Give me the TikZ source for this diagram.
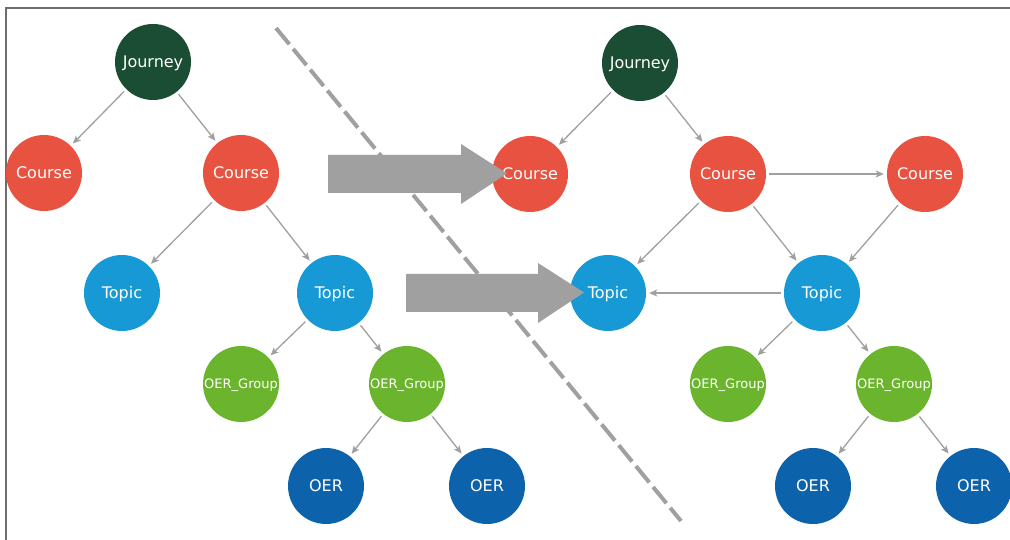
\documentclass[tikz,border=0pt]{standalone}
\usepackage{fontspec}
\setmainfont{DejaVu Sans}
\usetikzlibrary{arrows.meta}
\definecolor{cJourney}{HTML}{1A4D33}
\definecolor{cCourse}{HTML}{E85240}
\definecolor{cTopic}{HTML}{1799D6}
\definecolor{cGroup}{HTML}{6BB42D}
\definecolor{cOER}{HTML}{0D62AC}
\definecolor{cGray}{HTML}{A0A0A0}
\definecolor{cFrame}{HTML}{6E6E6E}
\tikzset{
  bubble/.style={circle, minimum size=76pt, inner sep=0pt, text=white, font=\fontsize{16}{18}\selectfont, text height=11.7pt, text depth=0pt},
  journey/.style={bubble, fill=cJourney},
  course/.style={bubble, fill=cCourse},
  topic/.style={bubble, fill=cTopic},
  group/.style={bubble, fill=cGroup, font=\fontsize{13}{15}\selectfont, text height=9.5pt},
  oer/.style={bubble, fill=cOER},
  link/.style={draw=cGray, line width=1.3pt, -{Stealth[length=8pt,width=7pt,inset=2pt]}, shorten >=3pt, shorten <=3pt},
  bigarrow/.style={fill=cGray},
  divider/.style={draw=cGray, line width=4pt, dash pattern=on 21pt off 6pt},
  frame/.style={draw=cFrame, line width=1.6pt}
}
\begin{document}
\begin{tikzpicture}[x=1pt, y=-1pt]
\useasboundingbox (0,0) rectangle (1010,540);
\draw[frame] (1010,8) -- (6,8) -- (6,540);
% left tree
\node[journey] (J) at (153,62) {Journey};
\node[course] (CL) at (44,173) {Course};
\node[course] (CR) at (241,173) {Course};
\node[topic] (TL) at (122,293) {Topic};
\node[topic] (TR) at (335,293) {Topic};
\node[group] (GL) at (241,384) {OER\_Group};
\node[group] (GR) at (407,384) {OER\_Group};
\node[oer] (OL) at (326,486) {OER};
\node[oer] (OR) at (487,486) {OER};
\draw[link] (J) -- (CL);
\draw[link] (J) -- (CR);
\draw[link] (CR) -- (TL);
\draw[link] (CR) -- (TR);
\draw[link] (TR) -- (GL);
\draw[link] (TR) -- (GR);
\draw[link] (GR) -- (OL);
\draw[link] (GR) -- (OR);
% right tree
\node[journey] (J2) at (640,63) {Journey};
\node[course] (C1) at (530,174) {Course};
\node[course] (C2) at (728,174) {Course};
\node[course] (C3) at (925,174) {Course};
\node[topic] (T1) at (608,293) {Topic};
\node[topic] (T2) at (822,293) {Topic};
\node[group] (G1) at (728,384) {OER\_Group};
\node[group] (G2) at (894,384) {OER\_Group};
\node[oer] (O1) at (813,486) {OER};
\node[oer] (O2) at (974,486) {OER};
\draw[link] (J2) -- (C1);
\draw[link] (J2) -- (C2);
\draw[link] (C2) -- (C3);
\draw[link] (C2) -- (T1);
\draw[link] (C2) -- (T2);
\draw[link] (C3) -- (T2);
\draw[link] (T2) -- (T1);
\draw[link] (T2) -- (G1);
\draw[link] (T2) -- (G2);
\draw[link] (G2) -- (O1);
\draw[link] (G2) -- (O2);
% divider
\coordinate (d1) at (276,28);
\coordinate (d2) at (681,521);
\draw[divider] (d1) -- (d2);
% big arrows
\fill[bigarrow] (328,155) -- (461,155) -- (461,144) -- (507,173.5) -- (461,204) -- (461,193) -- (328,193) -- cycle;
\fill[bigarrow] (406,274) -- (538,274) -- (538,263) -- (584,292.5) -- (538,323) -- (538,312) -- (406,312) -- cycle;
\end{tikzpicture}
\end{document}
